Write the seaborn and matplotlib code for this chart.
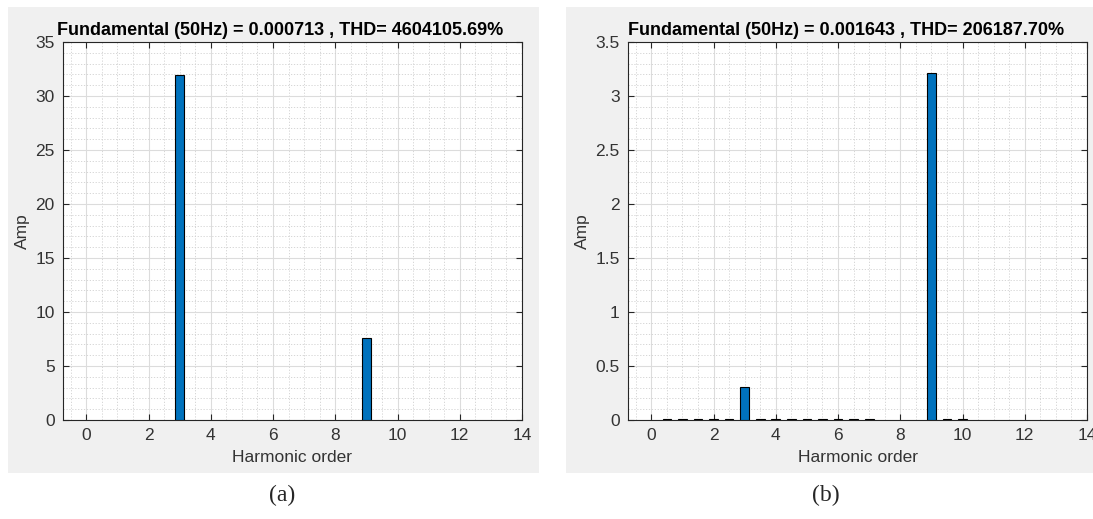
import numpy as np
import matplotlib
matplotlib.use('Agg')
import matplotlib.pyplot as plt
from matplotlib.patches import Rectangle
from matplotlib.ticker import MultipleLocator
import seaborn as sns

sns.set_style('white')
plt.rcParams['font.family'] = ['Liberation Sans', 'DejaVu Sans']

BAR_COLOR = '#0072BD'
FIG_BG = '#f0f0f0'
AXIS_COLOR = '#262626'
BAR_W = 0.28

# panel (a)
harm_a = [3.0, 9.0]
amp_a = [31.9, 7.55]
title_a = 'Fundamental (50Hz) = 0.000713 , THD= 4604105.69%'

# panel (b)
harm_b = [0.5, 1.0, 1.5, 2.0, 2.5, 3.0, 3.5, 4.0, 4.5, 5.0, 5.5, 6.0,
          6.5, 7.0, 9.0, 9.5, 10.0]
amp_b = [0.006, 0.006, 0.006, 0.008, 0.006, 0.31, 0.006, 0.008, 0.006,
         0.006, 0.006, 0.008, 0.006, 0.006, 3.21, 0.006, 0.008]
title_b = 'Fundamental (50Hz) = 0.001643 , THD= 206187.70%'

x_ticks = [0, 2, 4, 6, 8, 10, 12, 14]

W, H = 1093, 519
fig = plt.figure(figsize=(W / 100, H / 100), dpi=100)
fig.patch.set_facecolor('white')

# MATLAB-style grey figure panels
for x0, x1 in [(8, 539), (566, 1093)]:
    fig.patches.append(Rectangle((x0 / W, 1 - 473 / H), (x1 - x0) / W, 466 / H,
                                 transform=fig.transFigure, facecolor=FIG_BG,
                                 edgecolor='none', zorder=-10))


def draw_panel(left_px, harm, amp, title, ymax, ymajor, yminor):
    ax = fig.add_axes([left_px / W, 1 - 420 / H, 459 / W, 378 / H])
    ax.set_zorder(1)
    ax.set_facecolor('white')
    spacing = np.min(np.diff(sorted(harm)))
    sns.barplot(x=harm, y=amp, native_scale=True, width=BAR_W / spacing,
                color=BAR_COLOR, saturation=1, edgecolor='black',
                linewidth=0.8, errorbar=None, ax=ax, zorder=3)
    ax.set_xlim(-0.75, 14)
    ax.set_ylim(0, ymax)
    ax.set_xticks(x_ticks)
    ax.set_xticklabels([str(t) for t in x_ticks])
    ax.yaxis.set_major_locator(MultipleLocator(ymajor))
    ax.xaxis.set_minor_locator(MultipleLocator(0.5))
    ax.yaxis.set_minor_locator(MultipleLocator(yminor))
    ax.yaxis.set_major_formatter(plt.FuncFormatter(lambda v, p: f'{v:g}'))
    ax.grid(True, which='major', color='#dcdcdc', linewidth=0.8, zorder=0)
    ax.grid(True, which='minor', color='#d0d0d0', linewidth=0.6,
            linestyle=(0, (1.5, 2)), zorder=0)
    ax.set_axisbelow(True)
    ax.tick_params(which='major', direction='in', length=4, width=0.8,
                   top=True, right=True, bottom=True, left=True, pad=6,
                   color=AXIS_COLOR, labelcolor='#333333', labelsize=12.5)
    ax.tick_params(which='minor', length=0)
    for sp in ax.spines.values():
        sp.set_color(AXIS_COLOR)
        sp.set_linewidth(0.8)
    ax.set_xlabel('Harmonic order', fontsize=12.5, color='#333333', labelpad=5)
    ax.set_ylabel('Amp', fontsize=12.5, color='#333333', labelpad=4)
    ax.set_title(title, fontsize=13, fontweight='bold', color='black', pad=5,
                 x=0.474)
    return ax


draw_panel(63, harm_a, amp_a, title_a, 35, 5, 1)
draw_panel(628, harm_b, amp_b, title_b, 3.5, 0.5, 0.1)

fig.text(282 / W, 1 - 495 / H, '(a)', ha='center', va='center',
         fontsize=17, family='Liberation Serif')
fig.text(826 / W, 1 - 495 / H, '(b)', ha='center', va='center',
         fontsize=17, family='Liberation Serif')

fig.savefig('out.png', dpi=100, facecolor=fig.get_facecolor())
